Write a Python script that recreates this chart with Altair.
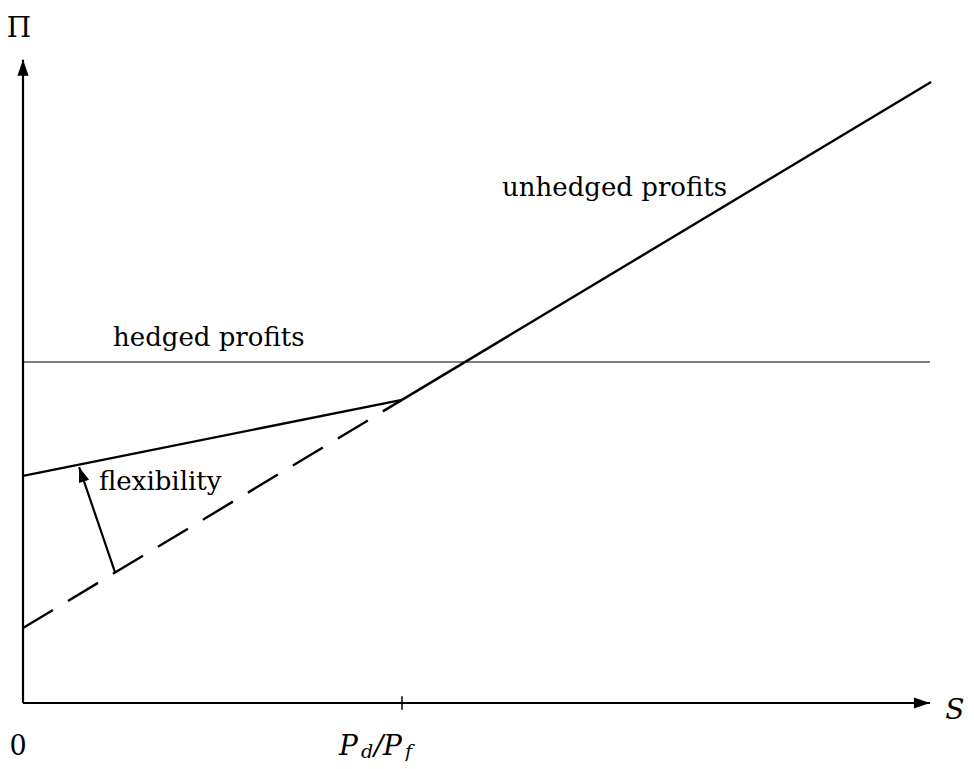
import altair as alt
import pandas as pd

# ---- values ----
# S measured in units of P_d/P_f, profits (Π) in units of the hedged profit level
S_BREAK = 1.0                 # P_d / P_f
S_AXIS_END = 2.393
PI_AXIS_END = 1.886
HEDGED_PI = 1.0
UNHEDGED_S = [0.0, 1.0, 2.396]
UNHEDGED_PI = [0.22, 0.889, 1.821]
FLEX_S = [0.0, 1.0]
FLEX_PI = [0.666, 0.889]
ARROW_S = [0.2427, 0.148]
ARROW_PI = [0.384, 0.692]

LABELS = ["hedged profits", "unhedged profits", "flexibility"]
LABEL_S = [0.2375, 1.264, 0.2005]
LABEL_PI = [1.047, 1.487, 0.625]

# ---- tables ----
axes = pd.DataFrame({"S": [0.0, 0.0], "P": [0.0, 0.0],
                     "S2": [S_AXIS_END, 0.0], "P2": [0.0, PI_AXIS_END]})
tick = pd.DataFrame({"S": [S_BREAK], "P": [-0.02], "S2": [S_BREAK], "P2": [0.02]})
hedged = pd.DataFrame({"S": [0.0], "P": [HEDGED_PI], "S2": [S_AXIS_END], "P2": [HEDGED_PI]})
dashed = pd.DataFrame({"S": [UNHEDGED_S[0]], "P": [UNHEDGED_PI[0]],
                       "S2": [UNHEDGED_S[1]], "P2": [UNHEDGED_PI[1]]})
solid = pd.DataFrame({"S": [UNHEDGED_S[1]], "P": [UNHEDGED_PI[1]],
                      "S2": [UNHEDGED_S[2]], "P2": [UNHEDGED_PI[2]]})
flex = pd.DataFrame({"S": [FLEX_S[0]], "P": [FLEX_PI[0]],
                     "S2": [FLEX_S[1]], "P2": [FLEX_PI[1]]})
arrow = pd.DataFrame({"S": [ARROW_S[0]], "P": [ARROW_PI[0]],
                      "S2": [ARROW_S[1]], "P2": [ARROW_PI[1]]})
heads_axes = pd.DataFrame({"S": [0.0, S_AXIS_END], "P": [PI_AXIS_END, 0.0], "ang": [0, 90]})
heads_flex = pd.DataFrame({"S": [ARROW_S[1]], "P": [ARROW_PI[1]], "ang": [341]})
labels = pd.DataFrame({"S": LABEL_S, "P": LABEL_PI, "t": LABELS})

xs = alt.Scale(domain=[0, 1], range=[15, 394], nice=False, zero=False)
ys = alt.Scale(domain=[0, 1], range=[695, 354], nice=False, zero=False)


def seg(df, **kw):
    return alt.Chart(df).mark_rule(**kw).encode(
        x=alt.X("S:Q", scale=xs, axis=None),
        y=alt.Y("P:Q", scale=ys, axis=None),
        x2="S2:Q", y2="P2:Q")


HEAD = "M0,0L0.7,2L-0.7,2Z"


def heads(df, size):
    return alt.Chart(df).mark_point(shape=HEAD, filled=True, color="black",
                                    opacity=1, size=size, strokeWidth=0).encode(
        x=alt.X("S:Q", scale=xs, axis=None),
        y=alt.Y("P:Q", scale=ys, axis=None),
        angle=alt.Angle("ang:Q", scale=None))


def txt(df, font_size, italic=False, align="left", dx=0, dy=0):
    return alt.Chart(df).mark_text(font="DejaVu Serif", fontSize=font_size,
                                   fontStyle="italic" if italic else "normal",
                                   align=align, baseline="alphabetic", dx=dx, dy=dy,
                                   color="black").encode(
        x=alt.X("S:Q", scale=xs, axis=None),
        y=alt.Y("P:Q", scale=ys, axis=None),
        text="t:N")


math_pi = pd.DataFrame({"S": [-0.0106], "P": [1.953], "t": ["Π"]})
math_s = pd.DataFrame({"S": [2.459], "P": [-0.047], "t": ["S"]})
math_0 = pd.DataFrame({"S": [-0.013], "P": [-0.1525], "t": ["0"]})
pdpf_anchor = {"S": 0.8338, "P": -0.1525}
pd_P1 = pd.DataFrame({**{k: [v] for k, v in pdpf_anchor.items()}, "t": ["P"]})
pd_d = pd.DataFrame({**{k: [v] for k, v in pdpf_anchor.items()}, "t": ["d"]})
pd_sl = pd.DataFrame({**{k: [v] for k, v in pdpf_anchor.items()}, "t": ["/"]})
pd_P2 = pd.DataFrame({**{k: [v] for k, v in pdpf_anchor.items()}, "t": ["P"]})
pd_f = pd.DataFrame({**{k: [v] for k, v in pdpf_anchor.items()}, "t": ["f"]})

chart = alt.layer(
    seg(hedged, color="#555555", strokeWidth=1.3),
    seg(axes, color="black", strokeWidth=2.2),
    seg(tick, color="black", strokeWidth=1.5),
    seg(dashed, color="black", strokeWidth=2.4, strokeDash=[35, 17.5]),
    seg(solid, color="black", strokeWidth=2.4),
    seg(flex, color="black", strokeWidth=2.4),
    seg(arrow, color="black", strokeWidth=2.2),
    heads(heads_axes, 256),
    heads(heads_flex, 230),
    txt(labels, 26),
    txt(math_pi, 28, align="center"),
    txt(math_s, 28, italic=True, align="center"),
    txt(math_0, 27, align="center"),
    txt(pd_P1, 28, italic=True, dx=0),
    txt(pd_d, 19, italic=True, dx=22, dy=3),
    txt(pd_sl, 28, italic=True, dx=35),
    txt(pd_P2, 28, italic=True, dx=44),
    txt(pd_f, 19, italic=True, dx=66, dy=3),
).properties(
    width=958, height=753, autosize=alt.AutoSizeParams(type="none"), padding=0
).configure_view(stroke=None)

chart.save("out.html", embed_options={"renderer": "svg", "actions": False})
